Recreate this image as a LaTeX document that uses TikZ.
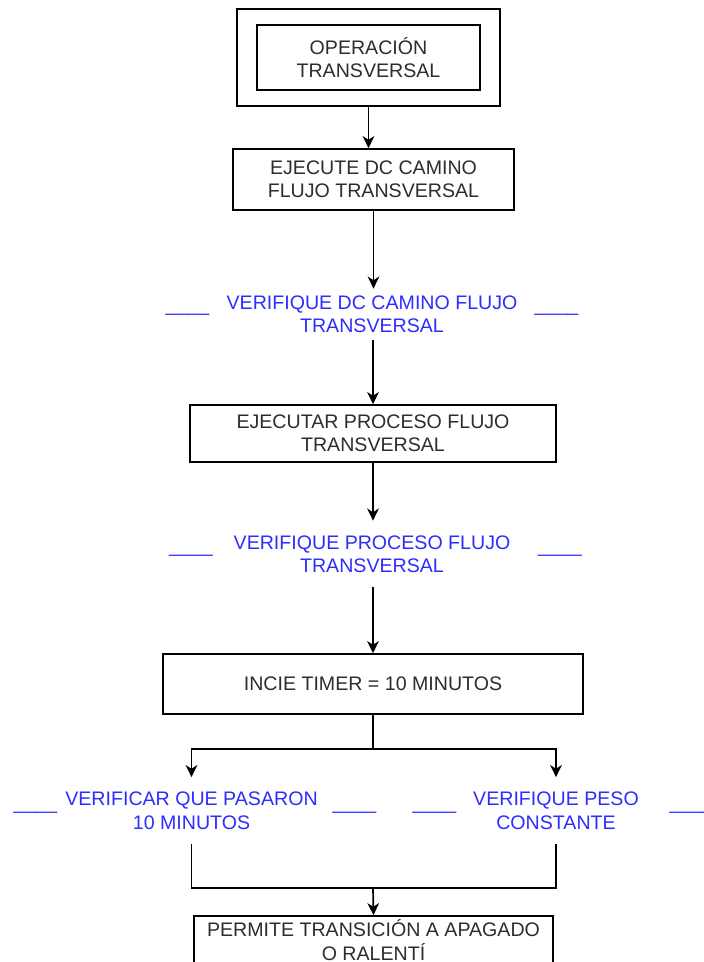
\documentclass[tikz,border=0pt]{standalone}
\usepackage{fontspec}
\setmainfont{Liberation Sans}
\usetikzlibrary{arrows.meta}
\definecolor{txtgray}{RGB}{45,45,45}
\definecolor{lblue}{RGB}{45,45,255}
\begin{document}
\begin{tikzpicture}[x=0.5pt,y=-0.5pt,
  every node/.style={font=\fontsize{9.8pt}{11.75pt}\selectfont},
  box/.style={draw, line width=0.85pt, inner sep=0pt, align=center, text=txtgray},
  lbl/.style={inner sep=0pt, align=center, text=lblue, minimum height=33pt},
  usc/.style={inner sep=0pt, anchor=base, text=lblue},
  arr/.style={line width=0.85pt, -{Stealth[length=6pt,width=5.8pt,inset=1.8pt]}},
  ln/.style={line width=0.85pt}]
\clip (0,0) rectangle (704,962);
\fill[white] (0,0) rectangle (704,962);
% boxes
\node[box, minimum width=131.5pt, minimum height=48.5pt] (outer) at (368.5,57.5) {};
\node[box, minimum width=111.5pt, minimum height=32.5pt] (start) at (368.5,57.5) {OPERACIÓN\\TRANSVERSAL};
\node[box, minimum width=140.5pt, minimum height=30.5pt] (b2) at (373.5,179.5) {EJECUTE DC CAMINO\\FLUJO TRANSVERSAL};
\node[lbl, minimum height=25.5pt] (l1) at (372,314.5) {VERIFIQUE DC CAMINO FLUJO\\TRANSVERSAL};
\node[box, minimum width=183pt, minimum height=28.5pt] (b3) at (373,433.5) {EJECUTAR PROCESO FLUJO\\TRANSVERSAL};
\node[lbl] (l2) at (372,554) {VERIFIQUE PROCESO FLUJO\\TRANSVERSAL};
\node[box, minimum width=210pt, minimum height=30pt] (b4) at (373,684) {INCIE TIMER = 10 MINUTOS};
\node[lbl] (lL) at (191.5,810.5) {VERIFICAR QUE PASARON\\10 MINUTOS};
\node[lbl] (lR) at (556,810.5) {VERIFIQUE PESO\\CONSTANTE};
\node[box, minimum width=179.5pt, minimum height=24pt] (b5) at (373.5,940) {PERMITE TRANSICIÓN A APAGADO\\O RALENTÍ};
% underscores
\node[usc] (u1l) at (187.5,312) {\_\_\_\_};
\node[usc] (u1r) at (556.5,312) {\_\_\_\_};
\node[usc] (u2l) at (191,552) {\_\_\_\_};
\node[usc] (u2r) at (560,552) {\_\_\_\_};
\node[usc] (uLl) at (35.5,809) {\_\_\_\_};
\node[usc] (uLr) at (354.5,809) {\_\_\_\_};
\node[usc] (uRl) at (434.5,809) {\_\_\_\_};
\node[usc] (uRr) at (691.5,809) {\_\_\_\_};
% connectors
\draw[arr] (outer.south) -- (outer.south |- b2.north);
\draw[arr] (b2.south) -- (b2.south |- l1.north);
\draw[arr] (b3.north |- l1.south) -- (b3.north);
\draw[arr] (b3.south) -- (b3.south |- l2.north);
\draw[arr] (b4.north |- l2.south) -- (b4.north);
\draw[arr] (b4.south) -- ++(0,34) -| (lL.north);
\draw[arr] (b4.south) -- ++(0,34) -| (lR.north);
\coordinate (j) at (b4.south |- 0,888);
\draw[ln] (lL.south) |- (j) -| (lR.south);
\draw[arr] (j) -- (b5.north);
\end{tikzpicture}
\end{document}
